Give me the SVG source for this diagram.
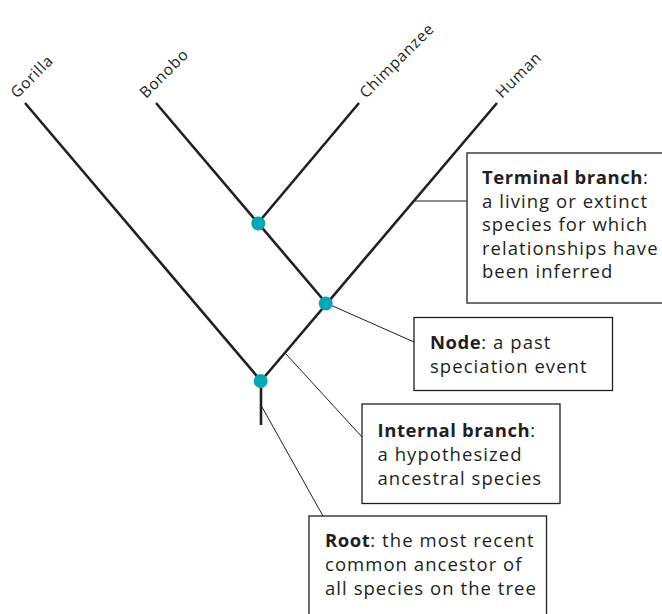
<svg xmlns="http://www.w3.org/2000/svg" width="662" height="614" viewBox="0 0 662 614">
<style>
.br{stroke:#231f20;stroke-width:2.6;fill:none;stroke-linecap:butt}
.ld{stroke:#231f20;stroke-width:1;fill:none}
.box{fill:#fff;stroke:#231f20;stroke-width:1.3}
.t{font-family:"Open Sans","Noto Sans",sans-serif;font-size:18.5px;fill:#231f20;letter-spacing:1.05px}
.b{font-weight:bold;letter-spacing:0.55px}
.lab{font-family:"Open Sans","Noto Sans",sans-serif;font-size:15.5px;fill:#231f20;letter-spacing:0.8px}
.nd{fill:#00a9b7}
</style>
<rect width="662" height="614" fill="#fff"/>
<g id="connectors">
<path class="br" d="M25,103 L261,381"/>
<path class="br" d="M156,103 L326,303"/>
<path class="br" d="M359,103 L258,223"/>
<path class="br" d="M497,103 L261,381"/>
<path class="br" d="M261,381 L261,425"/>
<path class="ld" d="M415,201 L467,201"/>
<path class="ld" d="M326,303 L414,342"/>
<path class="ld" d="M286,354 L362,437"/>
<path class="ld" d="M262,407 L323,516"/>
</g>
<g id="labels">
<text class="lab" transform="translate(17,99) rotate(-45)">Gorilla</text>
<text class="lab" transform="translate(146,99) rotate(-45)">Bonobo</text>
<text class="lab" transform="translate(366,99) rotate(-45)">Chimpanzee</text>
<text class="lab" transform="translate(502,99) rotate(-45)">Human</text>
</g>
<g id="node-chimp"><circle class="nd" cx="258.3" cy="223.5" r="7"/></g>
<g id="node-human"><circle class="nd" cx="325.7" cy="303.5" r="7"/></g>
<g id="node-root"><circle class="nd" cx="260.7" cy="381" r="7"/></g>
<g id="terminal-branch">
<rect class="box" x="467" y="153" width="196" height="150"/>
<text class="t" x="482" y="184"><tspan class="b">Terminal branch</tspan>:</text>
<text class="t" x="482" y="207.5">a living or extinct</text>
<text class="t" x="482" y="231">species for which</text>
<text class="t" x="482" y="254.5">relationships have</text>
<text class="t" x="482" y="278">been inferred</text>
</g>
<g id="node-label">
<rect class="box" x="414" y="317.5" width="198.5" height="73"/>
<text class="t" x="430" y="348.5"><tspan class="b">Node</tspan>: a past</text>
<text class="t" x="430" y="372.5">speciation event</text>
</g>
<g id="internal-branch">
<rect class="box" x="362" y="404" width="198" height="99.5"/>
<text class="t" x="377.5" y="437"><tspan class="b">Internal branch</tspan>:</text>
<text class="t" x="377.5" y="461">a hypothesized</text>
<text class="t" x="377.5" y="485">ancestral species</text>
</g>
<g id="root">
<rect class="box" x="309" y="516" width="237.5" height="110"/>
<text class="t" x="325" y="547"><tspan class="b">Root</tspan>: the most recent</text>
<text class="t" x="325" y="571">common ancestor of</text>
<text class="t" x="325" y="595">all species on the tree</text>
</g>
</svg>
